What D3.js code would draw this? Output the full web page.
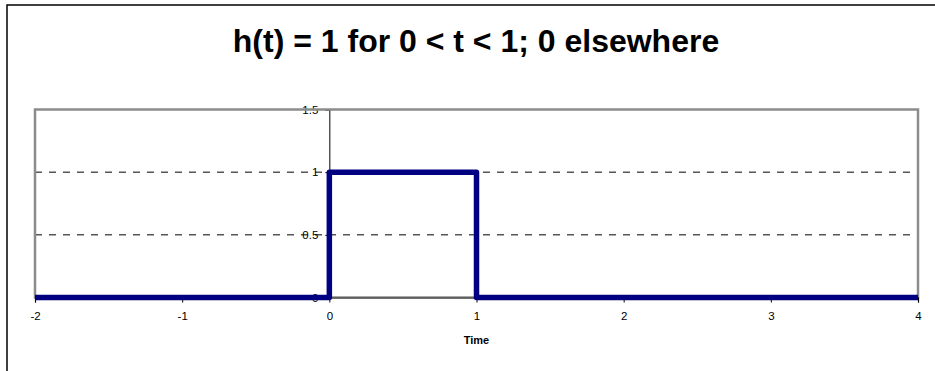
<!DOCTYPE html>
<html>
<head>
<meta charset="utf-8">
<script src="https://cdn.jsdelivr.net/npm/d3@7"></script>
<style>
  html, body { margin: 0; padding: 0; background: #fff; }
  svg { display: block; font-family: "Liberation Sans", Arial, sans-serif; }
</style>
</head>
<body>
<svg id="chart" width="935" height="371"></svg>
<script>
// Unit pulse h(t): 1 on (0, 1), 0 elsewhere
const times  = [-2, 0, 0, 1, 1, 4];
const values = [0, 0, 1, 1, 0, 0];
const xTicks = [-2, -1, 0, 1, 2, 3, 4];
const yTicks = [0, 0.5, 1, 1.5];
const yGrid  = [0.5, 1];
const titleText = "h(t) = 1 for 0 < t < 1; 0 elsewhere";
const xTitle = "Time";

const svg = d3.select("#chart");
const plain = d => String(d);   // ASCII hyphen for negatives

// Chart frame
svg.append("rect")
  .attr("x", 7).attr("y", 5)
  .attr("width", 1000).attr("height", 500)
  .attr("fill", "#fff")
  .attr("stroke", "#000")
  .attr("stroke-width", 1.5);

svg.append("text")
  .attr("x", 476).attr("y", 52)
  .attr("text-anchor", "middle")
  .attr("font-size", 32)
  .attr("font-weight", "bold")
  .text(titleText);

const x = d3.scaleLinear().domain([-2, 4]).range([35, 918]);
const y = d3.scaleLinear().domain([0, 1.5]).range([297.5, 109.5]);

// Plot area
svg.append("rect")
  .attr("x", x(-2)).attr("y", y(1.5))
  .attr("width", x(4) - x(-2)).attr("height", y(0) - y(1.5))
  .attr("fill", "#fff");

// Y axis sits at t = 0
const yAxis = svg.append("g")
  .attr("transform", `translate(${x(0)},0)`)
  .call(d3.axisLeft(y).tickValues(yTicks).tickSize(4).tickPadding(7)
    .tickFormat(plain));
yAxis.select(".domain").attr("stroke", "#000").attr("stroke-width", 1);
yAxis.selectAll(".tick line").attr("stroke", "#000");
yAxis.selectAll(".tick text")
  .attr("font-size", 11.5)
  .attr("fill", "#000")
  .attr("font-family", "Liberation Sans, Arial, sans-serif");

// Dashed gridlines drawn across the labels
svg.append("g").selectAll("line")
  .data(yGrid)
  .join("line")
  .attr("x1", x(-2)).attr("x2", x(4))
  .attr("y1", d => y(d)).attr("y2", d => y(d))
  .attr("stroke", "#000")
  .attr("stroke-width", 1)
  .attr("stroke-dasharray", "7,7");

// Plot border
svg.append("rect")
  .attr("x", x(-2)).attr("y", y(1.5))
  .attr("width", x(4) - x(-2)).attr("height", y(0) - y(1.5))
  .attr("fill", "none")
  .attr("stroke", "#8c8c8c")
  .attr("stroke-width", 2.5);

// X axis along h = 0
const xAxis = svg.append("g")
  .attr("transform", `translate(0,${y(0)})`)
  .call(d3.axisBottom(x).tickValues(xTicks).tickSize(5).tickPadding(9)
    .tickFormat(plain));
xAxis.select(".domain").attr("stroke", "#333").attr("stroke-width", 1.2);
xAxis.selectAll(".tick line").attr("stroke", "#000");
xAxis.selectAll(".tick text")
  .attr("font-size", 11.5)
  .attr("fill", "#000")
  .attr("font-family", "Liberation Sans, Arial, sans-serif");

svg.append("text")
  .attr("x", x(1)).attr("y", 344)
  .attr("text-anchor", "middle")
  .attr("font-size", 11)
  .attr("font-weight", "bold")
  .text(xTitle);

// Pulse
const pts = times.map((t, i) => [t, values[i]]);
svg.append("path")
  .datum(pts)
  .attr("fill", "none")
  .attr("stroke", "#000080")
  .attr("stroke-width", 5.5)
  .attr("stroke-linejoin", "round")
  .attr("d", d3.line().x(d => x(d[0])).y(d => y(d[1])));
</script>
</body>
</html>
